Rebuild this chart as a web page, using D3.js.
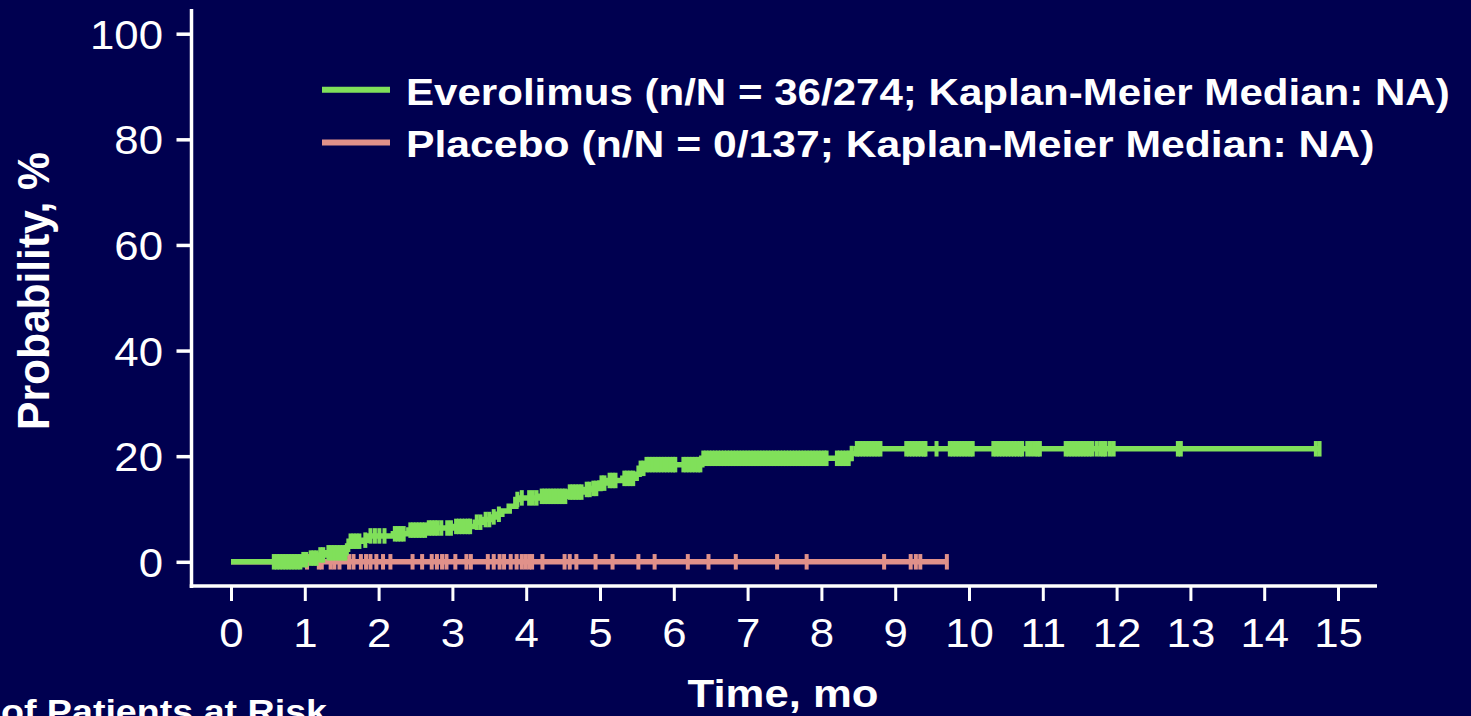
<!DOCTYPE html>
<html>
<head>
<meta charset="utf-8">
<script src="https://cdn.jsdelivr.net/npm/d3@7/dist/d3.min.js"></script>
<style>
  html, body { margin: 0; padding: 0; background: #000050; overflow: hidden; }
  svg { display: block; }
  text { font-family: "Liberation Sans", Arial, sans-serif; fill: #ffffff; }
</style>
</head>
<body>
<svg id="chart" width="1471" height="716"></svg>
<script>
// Axis ticks
const xTicks = [0, 1, 2, 3, 4, 5, 6, 7, 8, 9, 10, 11, 12, 13, 14, 15];
const yTicks = [0, 20, 40, 60, 80, 100];

// Everolimus: cumulative probability (%) after each event time (months)
const eveTimes = [0, 0.95, 1.06, 1.18, 1.30, 1.56, 1.58, 1.60, 1.80, 1.87, 2.20, 2.41, 2.65, 3.03,
                  3.31, 3.42, 3.54, 3.61, 3.67, 3.77, 3.86, 3.92, 4.19, 4.57, 4.80, 4.89, 5.00,
                  5.11, 5.31, 5.49, 5.53, 5.60, 6.38, 8.40, 8.47];
const evePct   = [0, 0.4, 0.7, 1.3, 1.7, 2.4, 3.0, 3.9, 4.1, 4.9, 5.3, 6.0, 6.4, 6.7,
                  7.5, 8.0, 8.5, 9.0, 9.6, 10.5, 11.8, 12.1, 12.4, 13.2, 13.7, 13.9, 14.9,
                  15.4, 15.8, 16.6, 17.7, 18.4, 19.6, 20.5, 21.4];
const eveLastFollowUp = 14.73;
const eveCensored = [0.58, 0.62, 0.66, 0.70, 0.74, 0.78, 0.82, 0.86, 0.90, 0.94, 0.98,
  1.02, 1.08, 1.12, 1.16, 1.21, 1.25, 1.32, 1.36, 1.40, 1.44, 1.48, 1.52, 1.55,
  1.62, 1.66, 1.70, 1.74, 1.82, 1.89, 1.95, 2.01, 2.08, 2.22, 2.26, 2.30, 2.34,
  2.43, 2.47, 2.51, 2.55, 2.59, 2.63, 2.68, 2.72, 2.76, 2.80, 2.85, 2.93, 2.98,
  3.05, 3.09, 3.13, 3.17, 3.21, 3.24, 3.33, 3.38, 3.45, 3.50, 3.56, 3.63,
  3.88, 3.94, 4.04, 4.09, 4.14, 4.21, 4.25, 4.29, 4.33, 4.37, 4.41, 4.45, 4.49, 4.53,
  4.59, 4.63, 4.67, 4.71, 4.75, 4.82, 4.86, 4.91, 4.95, 5.02, 5.06, 5.13, 5.17, 5.21,
  5.33, 5.37, 5.41, 5.45, 5.55, 5.59, 5.63, 5.67, 5.71, 5.75, 5.79, 5.83, 5.87, 5.91,
  5.95, 5.99, 6.02, 6.13, 6.17, 6.21, 6.25, 6.29, 6.33, 6.36,
  6.40, 6.44, 6.48, 6.52, 6.56, 6.60, 6.64, 6.68, 6.72, 6.76, 6.80, 6.84, 6.88, 6.92,
  6.96, 7.00, 7.04, 7.08, 7.12, 7.16, 7.20, 7.24, 7.28, 7.32, 7.36, 7.40, 7.44, 7.48,
  7.52, 7.56, 7.60, 7.64, 7.68, 7.72, 7.76, 7.80, 7.84, 7.88, 7.92, 7.96, 8.00, 8.04,
  8.07, 8.21, 8.25, 8.29, 8.33, 8.37, 8.41, 8.48, 8.52, 8.56, 8.60, 8.64, 8.68, 8.72,
  8.76, 8.80, 9.15, 9.19, 9.23, 9.27, 9.31, 9.35, 9.39, 9.41, 9.56,
  9.74, 9.78, 9.82, 9.86, 9.90, 9.94, 9.98, 10.02, 10.05,
  10.33, 10.37, 10.41, 10.45, 10.49, 10.53, 10.57, 10.61, 10.65, 10.69, 10.72,
  10.79, 10.84, 10.89, 10.93, 10.96,
  11.31, 11.35, 11.39, 11.43, 11.47, 11.51, 11.55, 11.59, 11.63, 11.67,
  11.73, 11.78, 11.82, 11.85, 11.91, 11.96, 12.83, 12.87, 14.70, 14.75];

// Placebo: no events, censored follow-up times (months)
const plaTimes = [0];
const plaPct = [0];
const plaLastFollowUp = 9.70;
const plaCensored = [1.03, 1.19, 1.23, 1.35, 1.40, 1.47, 1.60, 1.66, 1.76, 1.83, 1.89,
  1.97, 2.06, 2.16, 2.46, 2.59, 2.72, 2.79, 2.86, 2.92, 3.04, 3.19, 3.25, 3.48, 3.56,
  3.64, 3.70, 3.79, 3.87, 3.94, 3.99, 4.04, 4.08, 4.22, 4.52, 4.59, 4.68, 4.94, 5.17,
  5.52, 5.74, 6.19, 6.47, 6.84, 7.40, 7.80, 8.85, 9.21, 9.28, 9.34, 9.70];

const seriesNames = ["Everolimus (n/N = 36/274; Kaplan-Meier Median: NA)",
                     "Placebo (n/N = 0/137; Kaplan-Meier Median: NA)"];
const seriesColors = ["#80e05a", "#e0918a"];

const STRETCH = 1.12;      // horizontal text stretch used for the titles
const TICK_STRETCH = 1.08; // horizontal stretch for tick labels

const svg = d3.select("#chart");
const x = d3.scaleLinear().domain([0, 15]).range([231, 1338]);
const y = d3.scaleLinear().domain([0, 100]).range([561.8, 33.7]);

const yAxisX = 191.5, xAxisY = 586;

// Y axis
const gy = svg.append("g").attr("transform", `translate(${yAxisX},0)`)
  .call(d3.axisLeft(y).tickValues(yTicks).tickSize(15).tickSizeOuter(0));
gy.select(".domain").remove();
gy.selectAll(".tick line").attr("stroke", "#fff").attr("stroke-width", 3.5);
gy.selectAll(".tick text")
  .attr("x", null).attr("dy", "0.36em")
  .attr("transform", `translate(-28.5,0) scale(${TICK_STRETCH},1)`)
  .style("font-size", "40.5px").style("fill", "#fff").style("font-family", "Liberation Sans, Arial, sans-serif");
svg.append("line").attr("x1", yAxisX).attr("x2", yAxisX).attr("y1", 9).attr("y2", 588)
  .attr("stroke", "#fff").attr("stroke-width", 3.5);

// X axis
const gx = svg.append("g").attr("transform", `translate(0,${xAxisY})`)
  .call(d3.axisBottom(x).tickValues(xTicks).tickSize(15).tickSizeOuter(0));
gx.select(".domain").remove();
gx.selectAll(".tick line").attr("stroke", "#fff").attr("stroke-width", 3);
gx.selectAll(".tick text")
  .attr("y", null).attr("dy", null)
  .attr("transform", `translate(0,61) scale(${TICK_STRETCH},1)`)
  .style("font-size", "40.5px").style("fill", "#fff").style("font-family", "Liberation Sans, Arial, sans-serif");
svg.append("line").attr("x1", yAxisX - 1.75).attr("x2", 1377).attr("y1", xAxisY).attr("y2", xAxisY)
  .attr("stroke", "#fff").attr("stroke-width", 3.5);

// Axis titles
svg.append("text")
  .attr("transform", `translate(783,707) scale(${STRETCH},1)`)
  .attr("text-anchor", "middle").style("font-weight", "bold").style("font-size", "39px")
  .text("Time, mo");
svg.append("text")
  .attr("transform", `translate(49,291) rotate(-90) scale(1,1.05)`)
  .attr("text-anchor", "middle").style("font-weight", "bold").style("font-size", "42.5px")
  .text("Probability, %");

// Caption of the at-risk table, running off the bottom edge
svg.append("text")
  .attr("transform", `translate(327,723) scale(${STRETCH},1)`)
  .attr("text-anchor", "end").style("font-weight", "bold").style("font-size", "33.6px")
  .text("No. of Patients at Risk");

// Kaplan-Meier curves
function stepValue(times, pct, t) {
  const i = d3.bisectRight(times, t) - 1;
  return pct[Math.max(0, i)];
}
function drawCurve(times, pct, last, censored, color) {
  const pts = times.map((t, i) => [t, pct[i]]);
  pts.push([last, pct[pct.length - 1]]);
  const line = d3.line().x(d => x(d[0])).y(d => y(d[1])).curve(d3.curveStepAfter);
  const g = svg.append("g");
  g.append("path").attr("d", line(pts)).attr("fill", "none")
    .attr("stroke", color).attr("stroke-width", 5.5);
  g.selectAll("rect").data(censored).join("rect")
    .attr("x", d => x(d) - 2)
    .attr("y", d => y(stepValue(times, pct, d)) - 7.75)
    .attr("width", 4).attr("height", 15.5)
    .attr("fill", color);
}
drawCurve(plaTimes, plaPct, plaLastFollowUp, plaCensored, seriesColors[1]);
drawCurve(eveTimes, evePct, eveLastFollowUp, eveCensored, seriesColors[0]);

// Legend
const legendRows = [{ ly: 89.7, ty: 105, sx: 1.122 }, { ly: 142.5, ty: 157, sx: 1.138 }];
seriesNames.forEach((name, i) => {
  svg.append("line").attr("x1", 322).attr("x2", 390)
    .attr("y1", legendRows[i].ly).attr("y2", legendRows[i].ly)
    .attr("stroke", seriesColors[i]).attr("stroke-width", 6);
  svg.append("text")
    .attr("transform", `translate(406,${legendRows[i].ty}) scale(${legendRows[i].sx},1)`)
    .style("font-weight", "bold").style("font-size", "37.5px")
    .text(name);
});
</script>
</body>
</html>
